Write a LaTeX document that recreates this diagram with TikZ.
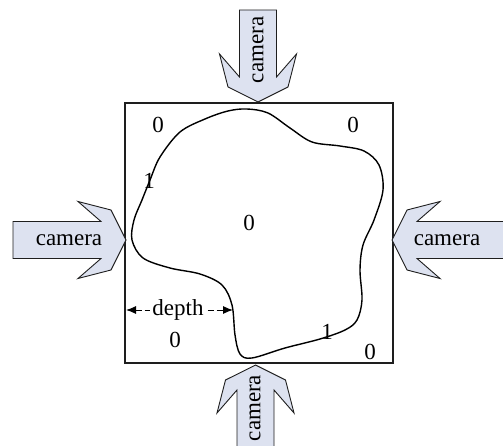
\documentclass[tikz,border=0pt]{standalone}
\usepackage{fontspec}
\setmainfont{Liberation Serif}
\usetikzlibrary{arrows.meta}
\definecolor{arrowfill}{RGB}{221,226,240}
\definecolor{inkline}{RGB}{30,30,30}
\tikzset{
  lbl/.style={font=\fontsize{23}{27}\selectfont, inner sep=0pt},
  outline/.style={draw=inkline, line width=1.1pt},
  blob/.style={draw=black, line width=1.4pt},
  shaftlen/.initial=100,
  camarrow/.pic={
    % tip at the local origin, shaft running back along -x
    \path[draw=inkline, line width=0.9pt, fill=arrowfill]
      (0,0) -- (-15,30) -- (-48,38.5) -- (-25,18.5) -- (-\pgfkeysvalueof{/tikz/shaftlen},18.5)
      -- (-\pgfkeysvalueof{/tikz/shaftlen},-18.5) -- (-25,-18.5) -- (-48,-38.5) -- (-15,-30) -- cycle;
  },
}
\begin{document}
\begin{tikzpicture}[x=1pt, y=-1pt]
  \useasboundingbox (0,0) rectangle (503,446);
  \clip (0,0) rectangle (503,446);

  % scene box
  \draw[outline] (125,103) rectangle (393,363);

  % four cameras looking at the box
  \pic[rotate=-90, shaftlen=92] at (258,102) {camarrow};
  \pic[shaftlen=113] at (126,240) {camarrow};
  \pic[rotate=180, shaftlen=130] at (392,240) {camarrow};
  \pic[rotate=90, shaftlen=100] at (255.5,365) {camarrow};

  \node[lbl, rotate=90] (camtop) at (258,50) {camera};
  \node[lbl] (camleft) at (69,240) {camera};
  \node[lbl] (camright) at (447,240) {camera};
  \node[lbl, rotate=90] (cambottom) at (255,408) {camera};

  % object outline
  \draw[blob] plot[smooth cycle, tension=0.55] coordinates {
    (247,109) (268,113) (290,128) (312,142) (340,146) (364,151) (379,165)
    (383,190) (374,220) (363,245) (360,270) (362,300) (357,320) (345,330)
    (320,339) (285,348) (252,358) (240,354) (235,335) (232,305) (222,285)
    (200,274) (170,268) (143,258) (132,240) (134,220) (142,200) (150,180)
    (160,157) (180,132) (205,119) (228,111)};

  % depth values
  \node[lbl] (v1) at (158,125) {0};
  \node[lbl] (v2) at (353,125) {0};
  \node[lbl] (v3) at (149,181) {1};
  \node[lbl] (v4) at (249,223) {0};
  \node[lbl] (v5) at (175,340) {0};
  \node[lbl] (v6) at (327,332) {1};
  \node[lbl] (v7) at (370,352) {0};

  % depth measure
  \coordinate (dl) at (126,310);
  \coordinate (dr) at (233,310);
  \draw[line width=1pt, dash pattern=on 6pt off 3pt,
        {Latex[length=10pt,width=8pt]}-{Latex[length=10pt,width=8pt]}] (dl) -- (dr);
  \node[lbl, fill=white, inner xsep=2pt] (dtext) at (178,310) {depth};
\end{tikzpicture}
\end{document}
